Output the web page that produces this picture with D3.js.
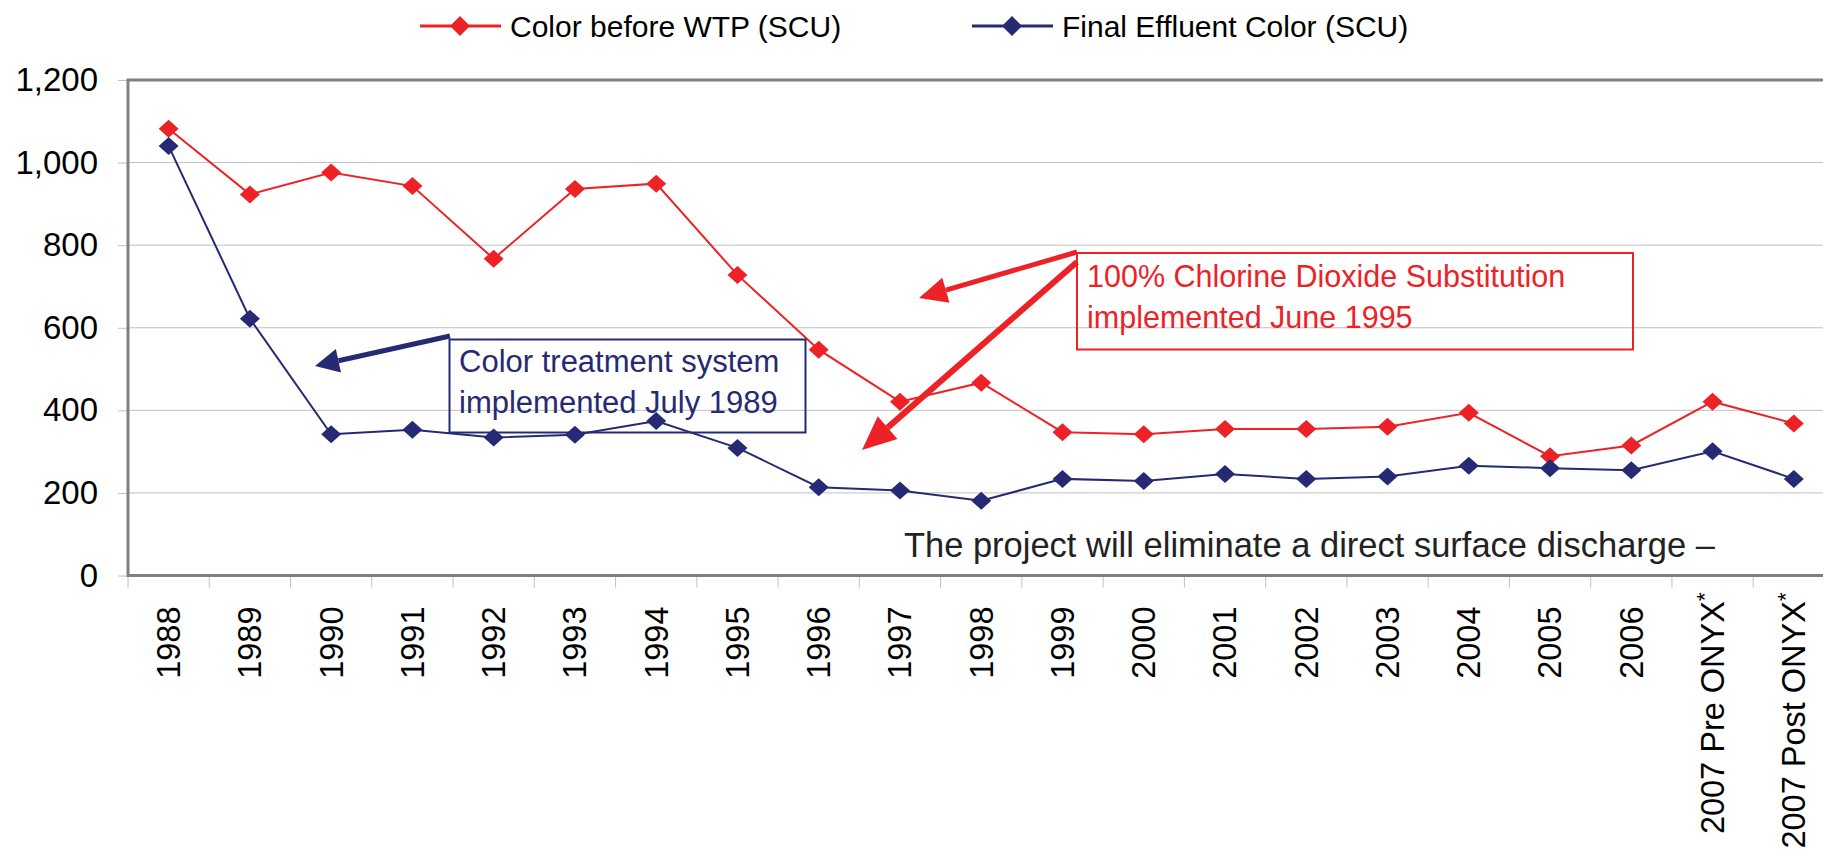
<!DOCTYPE html>
<html>
<head>
<meta charset="utf-8">
<script src="https://cdn.jsdelivr.net/npm/d3@7"></script>
<style>
  body { margin: 0; background: #fff; }
  svg { display: block; font-family: "Liberation Sans", Arial, sans-serif; }
</style>
</head>
<body>
<svg id="chart" width="1823" height="851"></svg>
<script>
// chart values
var categories = ["1988", "1989", "1990", "1991", "1992", "1993", "1994", "1995", "1996", "1997",
    "1998", "1999", "2000", "2001", "2002", "2003", "2004", "2005", "2006",
    "2007 Pre ONYX*", "2007 Post ONYX*"];
var colorBefore = [1082, 923, 976, 943, 767, 936, 949, 728, 547, 421, 467, 347, 342, 355, 355, 360, 394, 289, 315, 421, 368];
var finalEffluent = [1040, 622, 342, 353, 334, 341, 374, 309, 214, 206, 181, 234, 229, 246, 234, 240, 266, 260, 255, 301, 234];
var yTicks = [0, 200, 400, 600, 800, 1000, 1200];
var seriesNames = ["Color before WTP (SCU)", "Final Effluent Color (SCU)"];

var RED = "#ed2227", BLUE = "#262a74", AXIS = "#808080", GRID = "#c0c0c0";

var svg = d3.select("#chart"),
    margin = {top: 80, left: 128},
    step = 81.26,
    plotRight = margin.left + step * categories.length,
    plotBottom = 575.5;

var x = d3.scaleBand().domain(categories).range([margin.left, plotRight]);
var y = d3.scaleLinear().domain([0, 1200]).range([plotBottom, margin.top]);

// gridlines
svg.append("g").selectAll("line")
    .data(yTicks.slice(1, -1))
    .enter().append("line")
    .attr("x1", margin.left).attr("x2", plotRight)
    .attr("y1", function (d) { return y(d); })
    .attr("y2", function (d) { return y(d); })
    .attr("stroke", GRID).attr("stroke-width", 1);

// y axis
var yAxis = svg.append("g")
    .attr("transform", "translate(" + margin.left + ",0)")
    .call(d3.axisLeft(y).tickValues(yTicks).tickFormat(d3.format(",")).tickSize(10).tickPadding(20));
yAxis.select(".domain").remove();
yAxis.selectAll(".tick line").attr("stroke", GRID);
yAxis.selectAll(".tick text")
    .attr("fill", "#000").attr("font-size", 33).attr("font-family", "Liberation Sans, Arial, sans-serif");

// x axis: ticks between categories
svg.append("g").selectAll("line")
    .data(d3.range(categories.length + 1))
    .enter().append("line")
    .attr("x1", function (i) { return margin.left + i * x.step(); })
    .attr("x2", function (i) { return margin.left + i * x.step(); })
    .attr("y1", plotBottom).attr("y2", plotBottom + 12)
    .attr("stroke", GRID);

var xAxis = svg.append("g")
    .attr("transform", "translate(0," + plotBottom + ")")
    .call(d3.axisBottom(x).tickSize(0).tickFormat(function (d) { return d.replace("*", ""); }));
xAxis.select(".domain").remove();
xAxis.selectAll(".tick text")
    .attr("transform", "rotate(-90)")
    .attr("x", function (d) { return d.indexOf("*") >= 0 ? -17 : -31; })
    .attr("y", 0).attr("dy", "0.35em")
    .style("text-anchor", "end")
    .attr("fill", "#000").attr("font-size", 32.5).attr("font-family", "Liberation Sans, Arial, sans-serif")
    .filter(function (d) { return d.indexOf("*") >= 0; })
    .append("tspan").attr("font-size", 22).attr("dy", "-0.55em").text("*");

// plot frame
svg.append("path")
    .attr("d", "M" + plotRight + "," + margin.top + "H" + margin.left + "V" + plotBottom + "H" + plotRight)
    .attr("fill", "none").attr("stroke", AXIS).attr("stroke-width", 3);

var diamond = "M0,-9L10,0L0,9L-10,0Z";

function drawSeries(values, color) {
    var line = d3.line()
        .x(function (d, i) { return x(categories[i]) + x.bandwidth() / 2; })
        .y(function (d) { return y(d); });
    svg.append("path").datum(values)
        .attr("d", line).attr("fill", "none")
        .attr("stroke", color).attr("stroke-width", 2);
    svg.append("g").selectAll("path")
        .data(values)
        .enter().append("path")
        .attr("d", diamond)
        .attr("transform", function (d, i) {
            return "translate(" + (x(categories[i]) + x.bandwidth() / 2) + "," + y(d) + ")";
        })
        .attr("fill", color);
}
drawSeries(colorBefore, RED);
drawSeries(finalEffluent, BLUE);

// legend
var legend = [
    {name: seriesNames[0], color: RED, x: 420},
    {name: seriesNames[1], color: BLUE, x: 972}
];
var lg = svg.append("g").selectAll("g").data(legend).enter().append("g")
    .attr("transform", function (d) { return "translate(" + d.x + ",26)"; });
lg.append("line").attr("x1", 0).attr("x2", 81).attr("stroke", function (d) { return d.color; }).attr("stroke-width", 3);
lg.append("path").attr("d", "M0,-10L10,0L0,10L-10,0Z").attr("transform", "translate(40,0)")
    .attr("fill", function (d) { return d.color; });
lg.append("text").attr("x", 90).attr("dy", "0.35em").attr("font-size", 30)
    .text(function (d) { return d.name; });

// annotations
function arrow(x1, y1, x2, y2, color, w, headLen, headW) {
    var a = Math.atan2(y2 - y1, x2 - x1),
        bx = x2 - headLen * Math.cos(a), by = y2 - headLen * Math.sin(a),
        px = -Math.sin(a) * headW, py = Math.cos(a) * headW;
    svg.append("line").attr("x1", x1).attr("y1", y1).attr("x2", bx).attr("y2", by)
        .attr("stroke", color).attr("stroke-width", w);
    svg.append("path")
        .attr("d", "M" + x2 + "," + y2 + "L" + (bx + px) + "," + (by + py) + "L" + (bx - px) + "," + (by - py) + "Z")
        .attr("fill", color);
}

function noteBox(x0, y0, x1, y1, color, lines, tx, ty, fs) {
    svg.append("rect").attr("x", x0).attr("y", y0).attr("width", x1 - x0).attr("height", y1 - y0)
        .attr("fill", "none").attr("stroke", color).attr("stroke-width", 2);
    svg.append("g").selectAll("text").data(lines).enter().append("text")
        .attr("x", tx).attr("y", function (d, i) { return ty + i * 40.7; })
        .attr("font-size", fs).attr("fill", color)
        .text(function (d) { return d; });
}

noteBox(449.5, 339.5, 805.5, 432.5, BLUE, ["Color treatment system", "implemented July 1989"], 459, 372, 31);
arrow(450, 336, 315, 366, BLUE, 5, 24, 12);

noteBox(1077, 253, 1633, 349.5, RED, ["100% Chlorine Dioxide Substitution", "implemented June 1995"], 1087, 287, 30.5);
arrow(1077, 252, 919, 298, RED, 5, 28, 13);
arrow(1077, 262, 862, 450, RED, 6, 34, 15);

svg.append("text")
    .attr("x", 1715).attr("y", 556.5).attr("text-anchor", "end")
    .attr("font-size", 34.5).attr("fill", "#222")
    .text("The project will eliminate a direct surface discharge \u2013");
</script>
</body>
</html>
